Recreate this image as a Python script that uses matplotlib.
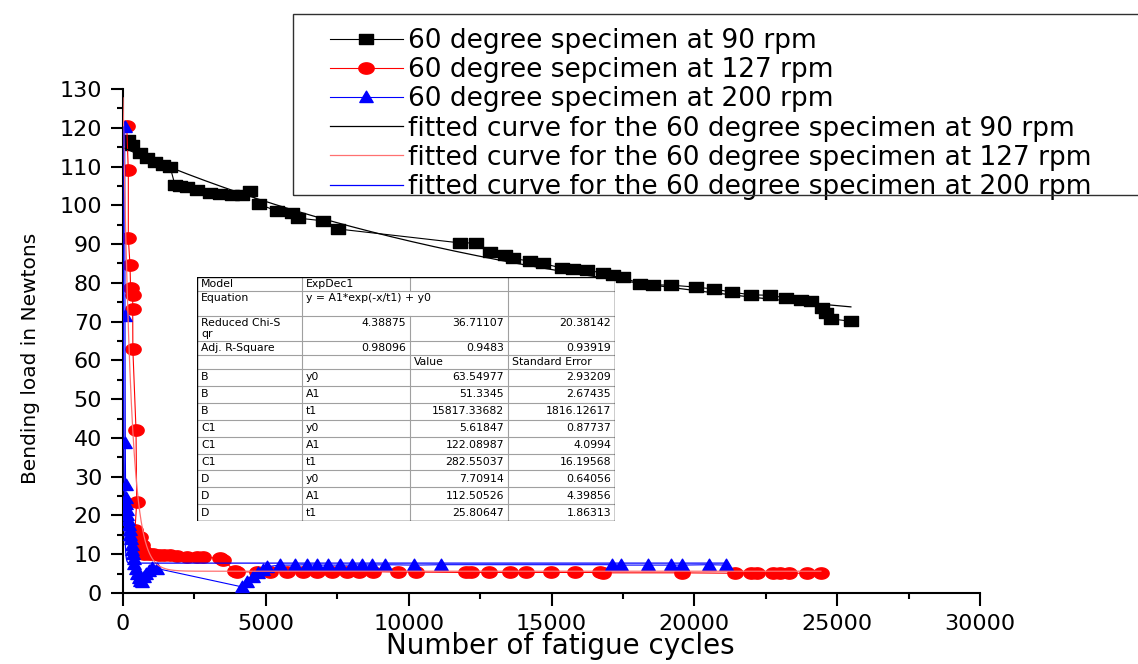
import matplotlib
matplotlib.use("Agg")
import numpy as np
import matplotlib.pyplot as plt
from matplotlib.path import Path
from matplotlib.patches import Rectangle
from matplotlib.ticker import MultipleLocator

plt.rcParams.update({"font.family": "DejaVu Sans"})

# measured load vs. cycles for the three spindle speeds
cycles_90 = [175, 300, 580, 840, 1120, 1400, 1650, 1820, 2000, 2240, 2590, 3040,
             3400, 3800, 4150, 4450, 4760, 5390, 5900, 6125, 7000, 7525, 11800,
             12360, 12850, 13370, 13650, 14245, 14700, 15365, 15750, 16240,
             16800, 17150, 17500, 18100, 18560, 19180, 20060, 20690, 21320,
             21985, 22650, 23210, 23730, 24080, 24470, 24610, 24780, 25480]
load_90 = [116.8, 115.6, 113.5, 112.2, 111.2, 110.4, 109.9, 105.2, 105.0, 104.7,
           104.0, 103.2, 102.9, 102.7, 102.7, 103.7, 100.3, 98.5, 98.0, 96.7,
           96.0, 93.9, 90.3, 90.3, 88.0, 87.2, 86.3, 85.6, 85.0, 83.8, 83.5,
           83.3, 82.5, 82.0, 81.5, 79.7, 79.5, 79.4, 78.9, 78.4, 77.6, 76.9,
           76.8, 76.1, 75.6, 75.3, 73.5, 72.2, 70.7, 70.1]

cycles_127 = [130, 186, 186, 245, 265, 340, 340, 345, 455, 480, 420, 595, 665,
              700, 600, 750, 900, 1050, 1250, 1450, 1650, 1900, 2240, 2590, 2800,
              3400, 3500, 3920, 4000, 4690, 5150, 5740, 6300, 6790, 7315, 7840,
              8260, 8750, 9625, 10255, 12005, 12180, 12810, 13545, 14105, 14980,
              15820, 16695, 16800, 19565, 21420, 21980, 22190, 22750, 22995,
              23310, 23940, 24430]
load_127 = [120.5, 109.0, 91.6, 84.6, 78.7, 76.9, 73.3, 62.9, 42.1, 23.5, 16.3,
            14.5, 12.5, 11.2, 10.3, 10.1, 10.0, 10.0, 9.9, 9.8, 9.7, 9.6, 9.4,
            9.3, 9.2, 9.0, 8.6, 5.6, 5.5, 5.4, 5.4, 5.5, 5.4, 5.5, 5.4, 5.5, 5.5,
            5.5, 5.4, 5.4, 5.3, 5.3, 5.3, 5.3, 5.3, 5.3, 5.3, 5.3, 5.2, 5.2, 5.1,
            5.1, 5.1, 5.1, 5.1, 5.1, 5.1, 5.1]

cycles_200 = [60, 70, 80, 90, 100, 110, 130, 150, 170, 200, 230, 260, 280, 300,
              330, 350, 380, 400, 450, 500, 550, 600, 650, 720, 800, 900, 1000,
              1200, 4150, 4350, 4550, 4725, 4900, 5040, 5500, 6020, 6440, 6790,
              7175, 7600, 8015, 8365, 8715, 9170, 10185, 11130, 17115, 17430,
              18375, 19180, 19565, 20510, 21105]
load_200 = [120.2, 71.4, 38.6, 27.9, 24.5, 23.0, 21.5, 20.0, 18.8, 17.5, 16.2,
            15.0, 13.8, 12.5, 11.2, 10.0, 8.8, 7.5, 6.2, 5.0, 3.8, 3.0, 2.8, 4.0,
            5.0, 5.8, 6.5, 6.3, 1.6, 2.9, 4.2, 5.2, 6.0, 6.8, 7.2, 7.2, 7.3, 7.2,
            7.2, 7.2, 7.2, 7.3, 7.2, 7.3, 7.2, 7.3, 7.3, 7.2, 7.2, 7.2, 7.2, 7.3,
            7.2]

# ExpDec1 fit results: y = A1*exp(-x/t1) + y0  (90, 127, 200 rpm)
fit_y0 = [63.54977, 5.61847, 7.70914]
fit_A1 = [51.3345, 122.08987, 112.50526]
fit_t1 = [15817.33682, 282.55037, 25.80647]
err_y0 = [2.93209, 0.87737, 0.64056]
err_A1 = [2.67435, 4.0994, 4.39856]
err_t1 = [1816.12617, 16.19568, 1.86313]
chi_sqr = ["4.38875", "36.71107", "20.38142"]
adj_r2 = ["0.98096", "0.9483", "0.93919"]
fit_names = ["B", "C1", "D"]

labels = ["60 degree specimen at 90 rpm",
          "60 degree sepcimen at 127 rpm",
          "60 degree specimen at 200 rpm",
          "fitted curve for the 60 degree specimen at 90 rpm",
          "fitted curve for the 60 degree specimen at 127 rpm",
          "fitted curve for the 60 degree specimen at 200 rpm"]


def shape(verts):
    return Path(verts + [verts[0]], closed=True)


square = shape([(-1, -0.8), (1, -0.8), (1, 0.8), (-1, 0.8)])
triangle = shape([(-1, -0.75), (1, -0.75), (0, 0.95)])
t = np.linspace(0, 2 * np.pi, 60)
ellipse = shape(list(zip(np.cos(t), 0.74 * np.sin(t))))

fig = plt.figure(figsize=(11.38, 6.64), dpi=100)
ax = fig.add_axes([123 / 1138, 1 - 593 / 664, 857 / 1138, 504 / 664], zorder=1)
ax.patch.set_alpha(0)

h1, = ax.plot(cycles_90, load_90, color="black", lw=0.8, marker=square,
              ms=9.8, mec="black", mfc="black", zorder=3)
h2, = ax.plot(cycles_127, load_127, color="red", lw=0.8, marker=ellipse,
              ms=11, mec="red", mfc="red", zorder=3)
h3, = ax.plot(cycles_200, load_200, color="blue", lw=0.8, marker=triangle,
              ms=9.6, mec="blue", mfc="blue", zorder=4)

fit_colors = ["black", "#ff7070", "blue"]
fit_handles = []
for i, xs in enumerate([cycles_90, cycles_127, cycles_200]):
    xf = np.linspace(0, max(xs), 4000)
    yf = fit_A1[i] * np.exp(-xf / fit_t1[i]) + fit_y0[i]
    h, = ax.plot(xf, yf, color=fit_colors[i], lw=0.9, zorder=5)
    fit_handles.append(h)

ax.set_xlim(0, 30000)
ax.set_ylim(0, 130)
ax.spines["top"].set_visible(False)
ax.spines["right"].set_visible(False)
for s in ["left", "bottom"]:
    ax.spines[s].set_linewidth(1.5)
ax.xaxis.set_major_locator(MultipleLocator(5000))
ax.xaxis.set_minor_locator(MultipleLocator(2500))
ax.yaxis.set_major_locator(MultipleLocator(10))
ax.yaxis.set_minor_locator(MultipleLocator(5))
ax.tick_params(which="major", length=9, width=1.5, labelsize=16, pad=6)
ax.tick_params(which="minor", length=4.5, width=1.5)

ax.set_xlabel("Number of fatigue cycles", fontsize=20)
ax.xaxis.set_label_coords(0.51, -0.077)
ax.set_ylabel("Bending load in Newtons", fontsize=14.5)
ax.yaxis.set_label_coords(-0.097, 0.466)

# legend box runs off the right edge of the figure
fig.add_artist(Rectangle((293 / 1138, 1 - 195 / 664), 0.8, 181 / 664,
                         transform=fig.transFigure, fill=False,
                         edgecolor="#303030", lw=1.0, zorder=2))
leg = ax.legend([h1, h2, h3] + fit_handles, labels, loc="upper left",
                bbox_to_anchor=(330 / 1138, 1 - 28 / 664),
                bbox_transform=fig.transFigure, fontsize=19, frameon=False,
                numpoints=1, handlelength=2.75, handletextpad=0.22,
                borderpad=0, borderaxespad=0, labelspacing=0.12)

# fit parameter table
tab = fig.add_axes([197 / 1138, 1 - 521 / 664, 418 / 1138, 244 / 664], zorder=0)
tab.set_xlim(0, 418)
tab.set_ylim(244, 0)
tab.axis("off")
col_x = [0, 105, 213, 311, 418]
row_h = [14, 25, 25, 14, 14] + [16.9] * 9
row_y = np.concatenate([[0], np.cumsum(row_h)])

rows = [["Model", "ExpDec1", "", ""],
        ["Equation", "y = A1*exp(-x/t1) + y0", "", ""],
        ["Reduced Chi-S\nqr"] + chi_sqr,
        ["Adj. R-Square"] + adj_r2,
        ["", "", "Value", "Standard Error"]]
for i, name in enumerate(fit_names):
    rows.append([name, "y0", str(fit_y0[i]), str(err_y0[i])])
    rows.append([name, "A1", str(fit_A1[i]), str(err_A1[i])])
    rows.append([name, "t1", str(fit_t1[i]), str(err_t1[i])])

grid = "#a0a0a0"
for y in row_y[1:-1]:
    tab.plot([0, 418], [y, y], color=grid, lw=0.8)
for r in range(len(rows)):
    for c in range(1, 4):
        if r == 1 and c == 2:
            continue
        tab.plot([col_x[c], col_x[c]], [row_y[r], row_y[r + 1]], color=grid, lw=0.8)
tab.plot([0, 418, 418, 0, 0], [0, 0, 244, 244, 0], color="black", lw=1.0)

for r, row in enumerate(rows):
    for c, txt in enumerate(row):
        if not txt:
            continue
        numeric = c >= 1 and txt[0].isdigit()
        if numeric:
            x, ha = col_x[c + 1] - 4, "right"
        else:
            x, ha = col_x[c] + 4, "left"
        if row_h[r] > 20:
            y, va = row_y[r] + 2, "top"
        else:
            y, va = (row_y[r] + row_y[r + 1]) / 2, "center"
        tab.text(x, y, txt, ha=ha, va=va, fontsize=7.8, linespacing=1.1)

fig.savefig("out.png", dpi=100)
